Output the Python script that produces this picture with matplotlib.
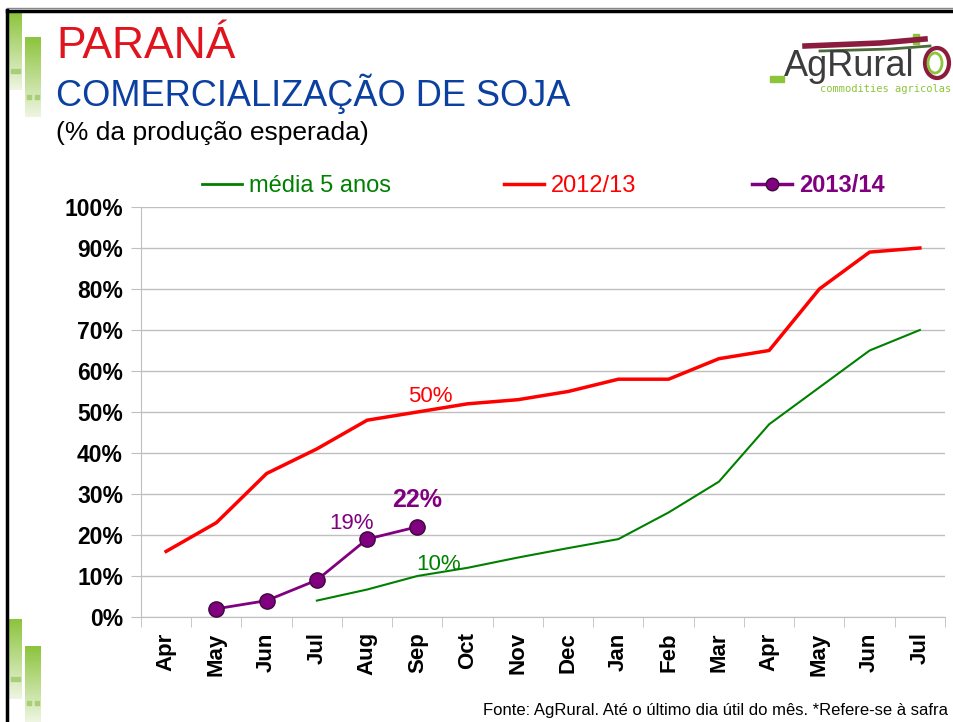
import matplotlib.pyplot as plt
import numpy as np
from matplotlib.lines import Line2D
from matplotlib.patches import Rectangle, Ellipse
from matplotlib.colors import LinearSegmentedColormap

plt.rcParams['font.family'] = ['Liberation Sans', 'DejaVu Sans']

months = ["Apr", "May", "Jun", "Jul", "Aug", "Sep", "Oct", "Nov",
          "Dec", "Jan", "Feb", "Mar", "Apr", "May", "Jun", "Jul"]
media5 = [np.nan, np.nan, np.nan, 4, 6.7, 10, 12, 14.5, 16.8, 19, 25.5, 33, 47, 56, 65, 70]
safra1213 = [16, 23, 35, 41, 48, 50, 52, 53, 55, 58, 58, 63, 65, 80, 89, 90]
safra1314 = [np.nan, 2, 4, 9, 19, 22] + [np.nan] * 10

W, H = 954, 722
fig = plt.figure(figsize=(W / 100, H / 100), dpi=100)


def fx(px):
    return px / W


def fy(py):
    return 1 - py / H


# slide frame
fig.add_artist(Line2D([fx(7), 1], [fy(8), fy(8)], color='#888888', lw=1))
fig.add_artist(Line2D([fx(7), 1], [fy(10.5), fy(10.5)], color='black', lw=2.5))
fig.add_artist(Line2D([fx(7.5), fx(7.5)], [fy(10), 0], color='black', lw=2.5))

# green gradient bars
grad = np.linspace(0, 1, 100).reshape(-1, 1)
gcm = LinearSegmentedColormap.from_list('g', ['#8cc43c', '#eef5e2'])
for (x0, y0, x1, y1) in [(9, 12, 22, 90), (25, 37, 41, 117),
                         (9, 619, 22, 699), (25, 646, 41, 722)]:
    bax = fig.add_axes([fx(x0), fy(y1), fx(x1 - x0), (y1 - y0) / H])
    bax.imshow(grad, aspect='auto', cmap=gcm, vmin=0, vmax=1)
    bax.plot([-0.22, 0.22], [75, 75], 's', color='#a8cf78', ms=2.5, ls='none')
    bax.set_xlim(-0.5, 0.5)
    bax.axis('off')

# titles
fig.text(fx(56), fy(47), "PARANÁ", color='#e0141e', fontsize=32, va='center')
fig.text(fx(56), fy(94), "COMERCIALIZAÇÃO DE SOJA", color='#0b3fa0', fontsize=26, va='center')
fig.text(fx(56), fy(133), "(% da produção esperada)", color='black', fontsize=19, va='center')

# logo
fig.add_artist(Rectangle((fx(770), fy(82)), fx(14), 6 / H, color='#8cc43c'))
fig.text(fx(784), fy(66), "AgRural", color='#3c3c3c', fontsize=26, va='center')
fig.text(fx(820), fy(89), "commodities agricolas", color='#8cc43c', fontsize=7.5,
         va='center', family='DejaVu Sans Mono')
fig.add_artist(Line2D([fx(805), fx(880), fx(925)], [fy(46), fy(43), fy(39)],
                      color='#8b1c3e', lw=4))
fig.add_artist(Line2D([fx(820), fx(890), fx(930)], [fy(51), fy(49), fy(46)],
                      color='#4c6a3a', lw=2))
fig.add_artist(Rectangle((fx(913), fy(44)), fx(6), 10 / H, color='#8cc43c'))
fig.add_artist(Ellipse((fx(937), fy(63)), fx(24), 30 / H, fill=False,
                       ec='#8b1c3e', lw=3))
fig.add_artist(Ellipse((fx(935), fy(63)), fx(14), 20 / H, fill=False,
                       ec='#8cc43c', lw=2))

# chart
ax = fig.add_axes([fx(141), fy(617), fx(945 - 141), (617 - 207) / H])
x = np.arange(len(months))
ax.plot(x, np.array(safra1213) / 100, color='#ff0000', lw=2.5, zorder=3)
ax.plot(x, np.array(media5) / 100, color='#008000', lw=1.5, zorder=3)
ax.plot(x, np.array(safra1314) / 100, color='#800080', lw=2, marker='o', ms=11,
        mfc='#800080', mec='#3a0a3a', mew=1, zorder=4)

ax.set_xlim(-0.5, len(months) - 0.5)
ax.set_ylim(0, 1)
ax.set_yticks(np.arange(0, 1.01, 0.1))
ax.set_yticklabels([f"{int(round(v * 100))}%" for v in np.arange(0, 1.01, 0.1)],
                   fontsize=16.5, fontweight='bold')
ax.set_xticks(x)
ax.set_xticklabels(months, rotation=90, fontsize=16, fontweight='bold')
ax.set_xticks(np.arange(-0.5, len(months)), minor=True)
ax.tick_params(axis='x', which='major', length=0, pad=11)
ax.tick_params(axis='x', which='minor', length=7, color='#bfbfbf')
ax.tick_params(axis='y', length=7, color='#bfbfbf', pad=6)
ax.grid(axis='y', color='#bfbfbf', lw=1)
ax.set_axisbelow(True)
for s in ('top', 'right'):
    ax.spines[s].set_visible(False)
for s in ('left', 'bottom'):
    ax.spines[s].set_color('#bfbfbf')

# value labels
ax.text(x[5] + 0.25, safra1213[5] / 100 + 0.012, "50%", color='#ff0000', fontsize=16,
        ha='center', va='bottom')
ax.text(x[5] + 0.42, media5[5] / 100 + 0.002, "10%", color='#008000', fontsize=16,
        ha='center', va='bottom')
ax.text(x[4] - 0.32, safra1314[4] / 100 + 0.012, "19%", color='#800080', fontsize=16,
        ha='center', va='bottom')
ax.text(x[5], safra1314[5] / 100 + 0.035, "22%", color='#800080', fontsize=18,
        fontweight='bold', ha='center', va='bottom')

# legend
items = [(210, Line2D([], [], color='#008000', lw=2), "média 5 anos", '#008000', 'normal'),
         (512, Line2D([], [], color='#ff0000', lw=2.5), "2012/13", '#ff0000', 'normal'),
         (760, Line2D([], [], color='#800080', lw=2.5, marker='o', ms=9, mec='#3a0a3a'),
          "2013/14", '#800080', 'bold')]
for px, h, lab, col, wt in items:
    leg = fig.legend(handles=[h], labels=[lab], loc='center left',
                     bbox_to_anchor=(fx(px - 8), fy(186)), frameon=False,
                     fontsize=17, handlelength=1.7, handletextpad=0.3,
                     borderaxespad=0, borderpad=0)
    for t in leg.get_texts():
        t.set_color(col)
        t.set_fontweight(wt)

fig.text(fx(948), fy(711), "Fonte: AgRural. Até o último dia útil do mês. *Refere-se à safra",
         fontsize=12, ha='right', va='center')

fig.savefig("out.png", dpi=100)
